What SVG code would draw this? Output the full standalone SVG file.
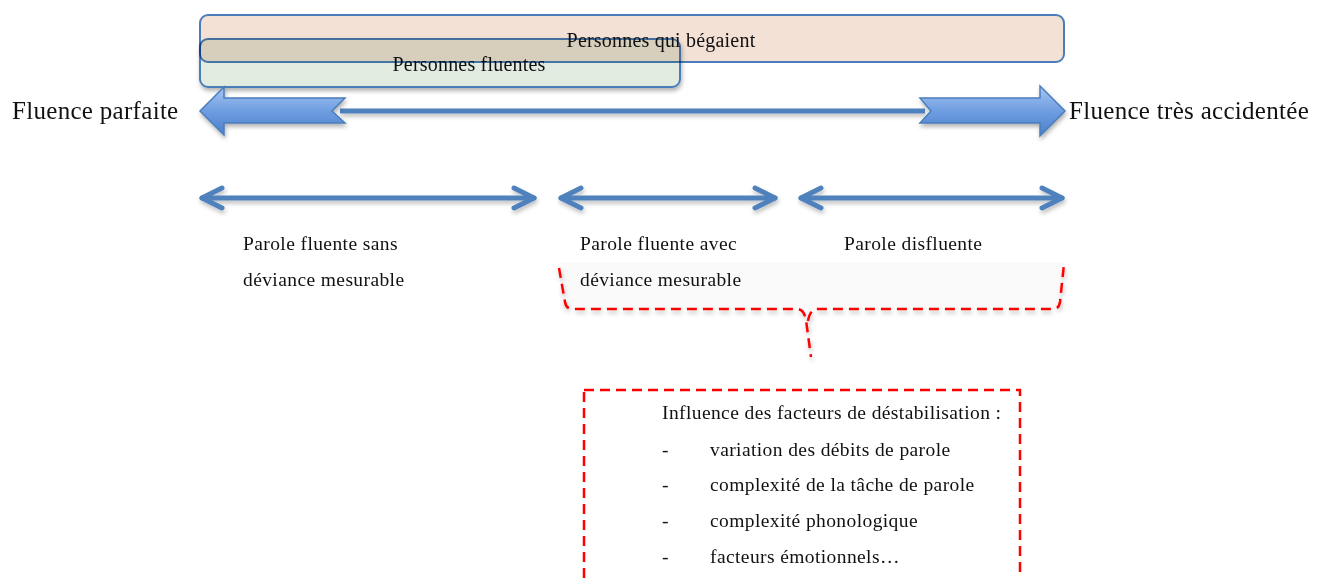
<svg xmlns="http://www.w3.org/2000/svg" width="1325" height="578" viewBox="0 0 1325 578">
<style>
  text { font-family: "Liberation Serif", "DejaVu Serif", serif; fill: #111111; }
  .big { font-size: 25px; letter-spacing: 0.3px; }
  .title { font-size: 20px; letter-spacing: 0.2px; }
  .lbl { font-size: 19.5px; letter-spacing: 0.4px; }
  .box { stroke: #4a7ebb; stroke-width: 2; }
  .blk { fill: url(#blkGrad); stroke: #4a7ebb; stroke-width: 1.5; stroke-linejoin: miter; }
  .dbl { stroke: #4f81bd; stroke-width: 5; fill: none; stroke-linecap: round; }
  .red { stroke: #ff0000; stroke-width: 2.5; fill: none; stroke-dasharray: 10 6; }
</style>
<defs>
  <linearGradient id="blkGrad" x1="0" y1="0" x2="0" y2="1">
    <stop offset="0" stop-color="#a6c6f2"/>
    <stop offset="0.5" stop-color="#6e9de0"/>
    <stop offset="1" stop-color="#4c7fcd"/>
  </linearGradient>
  <filter id="sh" x="-10%" y="-30%" width="120%" height="170%">
    <feDropShadow dx="1" dy="3" stdDeviation="2" flood-color="#000" flood-opacity="0.3"/>
  </filter>
  <filter id="shl" filterUnits="userSpaceOnUse" x="0" y="0" width="1325" height="578">
    <feDropShadow dx="1" dy="3" stdDeviation="2" flood-color="#000" flood-opacity="0.25"/>
  </filter>
  <marker id="chev" markerUnits="userSpaceOnUse" viewBox="-3 -3 28 26" markerWidth="28" markerHeight="26" refX="21" refY="10" orient="auto-start-reverse">
    <path d="M1,0 L21,10 L1,20" fill="none" stroke="#4f81bd" stroke-width="5" stroke-linecap="round" stroke-linejoin="round"/>
  </marker>
</defs>

<g id="personnes-fluentes">
  <rect class="box" x="200" y="39" width="480" height="48" rx="8" fill="#e1ebe0" filter="url(#sh)"/>
  <text class="title" x="469" y="71" text-anchor="middle">Personnes fluentes</text>
</g>

<g id="personnes-begaient">
  <rect class="box" x="200" y="15" width="864" height="47" rx="8" fill="#f4e1d6" style="mix-blend-mode:multiply"/>
  <text class="title" x="661" y="47" text-anchor="middle">Personnes qui bégaient</text>
</g>

<g id="axe">
  <line x1="340" y1="111" x2="925" y2="111" stroke="#4f81bd" stroke-width="5" filter="url(#shl)"/>
  <polygon class="blk" points="200,111 224,87 224,98 345,98 332,111 345,123 224,123 224,135" filter="url(#sh)"/>
  <polygon class="blk" points="920,98 1040,98 1040,86 1065,111 1040,136 1040,123 920,123 931,111" filter="url(#sh)"/>
</g>

<g id="fluence-parfaite">
  <text class="big" x="12" y="119">Fluence parfaite</text>
</g>
<g id="fluence-accidentee">
  <text class="big" x="1069" y="119">Fluence très accidentée</text>
</g>

<g id="connectors">
  <line class="dbl" x1="202" y1="198" x2="534" y2="198" marker-start="url(#chev)" marker-end="url(#chev)" filter="url(#shl)"/>
  <line class="dbl" x1="561" y1="198" x2="775" y2="198" marker-start="url(#chev)" marker-end="url(#chev)" filter="url(#shl)"/>
  <line class="dbl" x1="801" y1="198" x2="1062" y2="198" marker-start="url(#chev)" marker-end="url(#chev)" filter="url(#shl)"/>
  <rect x="560" y="262" width="503" height="47" fill="#fafafa"/>
  <path class="red" d="M559,268 L565,302 Q566,309 573,309 L797,309 Q804,309 806,320 L811,357 M808,321 Q810,309 818,309 L1053,309 Q1059,309 1060,302 L1064,264" filter="url(#shl)"/>
</g>

<g id="parole-sans">
  <text class="lbl" x="243" y="250">Parole fluente sans</text>
  <text class="lbl" x="243" y="286">déviance mesurable</text>
</g>
<g id="parole-avec">
  <text class="lbl" x="580" y="250">Parole fluente avec</text>
  <text class="lbl" x="580" y="286">déviance mesurable</text>
</g>
<g id="parole-disfluente">
  <text class="lbl" x="844" y="250">Parole disfluente</text>
</g>

<g id="facteurs">
  <rect class="red" x="584" y="390" width="436" height="210"/>
  <text class="lbl" x="662" y="419">Influence des facteurs de déstabilisation :</text>
  <text class="lbl" x="662" y="456">-</text>
  <text class="lbl" x="710" y="456">variation des débits de parole</text>
  <text class="lbl" x="662" y="491">-</text>
  <text class="lbl" x="710" y="491">complexité de la tâche de parole</text>
  <text class="lbl" x="662" y="527">-</text>
  <text class="lbl" x="710" y="527">complexité phonologique</text>
  <text class="lbl" x="662" y="563">-</text>
  <text class="lbl" x="710" y="563">facteurs émotionnels…</text>
</g>
</svg>
